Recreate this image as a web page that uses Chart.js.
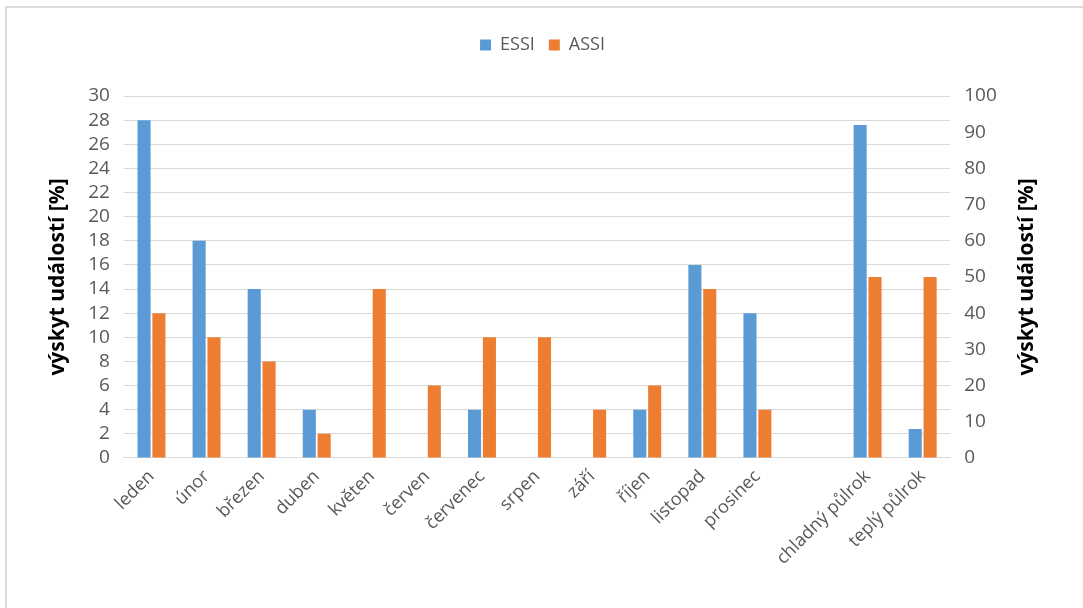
<!DOCTYPE html>
<html>
<head>
<meta charset="utf-8">
<script src="https://cdn.jsdelivr.net/npm/chart.js@4.4.1/dist/chart.umd.min.js"></script>
<style>
  html, body { margin: 0; padding: 0; background: #fff; }
  #wrap { position: relative; width: 1083px; height: 608px; }
  #frame { position: absolute; left: 5px; top: 6px; right: 0; bottom: 0;
           border-left: 2px solid #dcdcdc; border-top: 2px solid #dcdcdc; }
  canvas { position: absolute; left: 0; top: 0; }
</style>
</head>
<body>
<div id="wrap">
  <div id="frame"></div>
  <canvas id="events-chart" width="1083" height="608"></canvas>
</div>
<script>
// Monthly share of events (left axis) and half-year share (right axis)
const categories = ['leden', 'únor', 'březen', 'duben', 'květen', 'červen', 'červenec',
  'srpen', 'září', 'říjen', 'listopad', 'prosinec', '', 'chladný půlrok', 'teplý půlrok'];

const essiMonthly = [28, 18, 14, 4, 0, 0, 4, 0, 0, 4, 16, 12, null, null, null];
const assiMonthly = [12, 10, 8, 2, 14, 6, 10, 10, 4, 6, 14, 4, null, null, null];

const essiHalfYear = [null, null, null, null, null, null, null, null, null, null, null, null, null, 92, 8];
const assiHalfYear = [null, null, null, null, null, null, null, null, null, null, null, null, null, 50, 50];

const blue = 'rgb(91, 155, 213)';
const orange = 'rgb(237, 125, 49)';
const textGrey = '#595959';
const axisTitle = 'výskyt událostí [%]';
const titleFont = { family: 'Open Sans', size: 21, weight: 'bold' };

// extra room under the legend
const legendSpacing = {
    id: 'legendSpacing',
    beforeInit(chart) {
        const fit = chart.legend.fit;
        chart.legend.fit = function () {
            fit.bind(chart.legend)();
            this.height += 32;
        };
    }
};

// right axis title reads bottom-to-top like the left one
const rightTitle = {
    id: 'rightTitle',
    afterDraw(chart) {
        const s = chart.scales.y1;
        const ctx = chart.ctx;
        ctx.save();
        ctx.translate(s.right - 17, (s.top + s.bottom) / 2);
        ctx.rotate(-Math.PI / 2);
        ctx.fillStyle = '#000';
        ctx.font = 'bold 21px "Open Sans"';
        ctx.textAlign = 'center';
        ctx.textBaseline = 'middle';
        ctx.fillText(axisTitle, 0, 0);
        ctx.restore();
    }
};

const dataForEvents = {
    labels: categories,
    datasets: [
        { label: 'ESSI', data: essiMonthly, backgroundColor: blue, yAxisID: 'y' },
        { label: 'ASSI', data: assiMonthly, backgroundColor: orange, yAxisID: 'y' },
        { label: 'ESSI', data: essiHalfYear, backgroundColor: blue, yAxisID: 'y1' },
        { label: 'ASSI', data: assiHalfYear, backgroundColor: orange, yAxisID: 'y1' }
    ]
};

const configForEvents = {
    type: 'bar',
    data: dataForEvents,
    plugins: [legendSpacing, rightTitle],
    options: {
        responsive: false,
        animation: false,
        categoryPercentage: 0.54,
        barPercentage: 0.88,
        skipNull: true,
        layout: {
            padding: { left: 41, right: 39, top: 22, bottom: 39 }
        },
        plugins: {
            legend: {
                display: true,
                position: 'top',
                labels: {
                    filter: (item) => item.datasetIndex < 2,
                    boxWidth: 11,
                    boxHeight: 11,
                    padding: 14,
                    color: textGrey,
                    font: { family: 'Open Sans', size: 18 }
                }
            },
            tooltip: { enabled: false }
        },
        scales: {
            x: {
                grid: { display: false },
                border: { display: true, color: '#d9d9d9' },
                ticks: {
                    minRotation: 45,
                    maxRotation: 45,
                    autoSkip: false,
                    padding: 0,
                    color: textGrey,
                    font: { family: 'Open Sans', size: 18 }
                }
            },
            y: {
                position: 'left',
                min: 0,
                max: 30,
                ticks: {
                    stepSize: 2,
                    autoSkip: false,
                    color: textGrey,
                    padding: 14,
                    font: { family: 'Open Sans', size: 19 }
                },
                grid: { color: '#d9d9d9', drawTicks: false },
                border: { display: false },
                title: {
                    display: true,
                    text: axisTitle,
                    color: '#000',
                    font: titleFont
                }
            },
            y1: {
                position: 'right',
                min: 0,
                max: 100,
                ticks: {
                    stepSize: 10,
                    autoSkip: false,
                    color: textGrey,
                    padding: 14,
                    font: { family: 'Open Sans', size: 19 }
                },
                grid: { drawOnChartArea: false, drawTicks: false },
                border: { display: false },
                title: {
                    display: true,
                    text: axisTitle,
                    color: 'rgba(0, 0, 0, 0)',
                    font: titleFont
                }
            }
        }
    }
};

const eventsChart = new Chart(
    document.getElementById('events-chart'),
    configForEvents
);
</script>
</body>
</html>
